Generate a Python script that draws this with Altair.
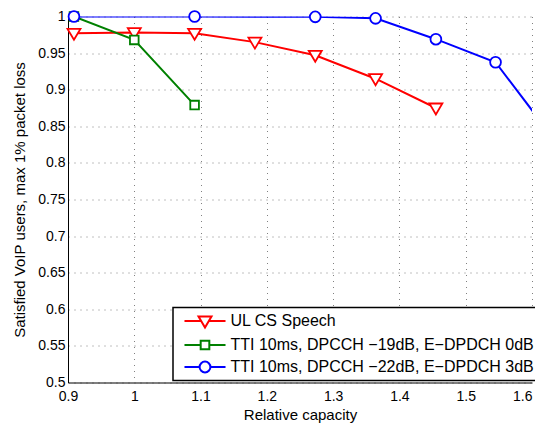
import altair as alt
import pandas as pd

FONT = "Liberation Sans"

series_names = [
    "UL CS Speech",
    "TTI 10ms, DPCCH \u221219dB, E\u2212DPDCH 0dB",
    "TTI 10ms, DPCCH \u221222dB, E\u2212DPDCH 3dB",
]
series_colors = ["#FF0000", "#008000", "#0000FF"]

x_red = [0.909, 1.0, 1.091, 1.182, 1.273, 1.364, 1.455]
y_red = [0.977, 0.978, 0.977, 0.965, 0.947, 0.915, 0.875]
x_green = [0.909, 1.0, 1.091]
y_green = [1.0, 0.968, 0.879]
x_blue = [0.909, 1.091, 1.273, 1.364, 1.455, 1.545, 1.636]
y_blue = [1.0, 1.0, 0.9995, 0.9975, 0.969, 0.9375, 0.829]

x_ticks = [0.9, 1.0, 1.1, 1.2, 1.3, 1.4, 1.5, 1.6]
y_ticks = [0.5, 0.55, 0.6, 0.65, 0.7, 0.75, 0.8, 0.85, 0.9, 0.95, 1.0]

# marker paths in the unit box (triangle-down, square, circle)
marker_shapes = [
    "M-0.72,-0.5L0.72,-0.5L0,0.72Z",
    "M-0.48,-0.48H0.48V0.48H-0.48Z",
    "M0.6,0A0.6,0.6,0,1,1,-0.6,0A0.6,0.6,0,1,1,0.6,0Z",
]
# legend glyphs: short line with the marker in the middle
legend_shapes = [
    "M-2.28,0H-0.42M0.42,0H2.28M-0.72,-0.5L0.72,-0.5L0,0.72Z",
    "M-2.28,0H-0.48M0.48,0H2.28M-0.48,-0.48H0.48V0.48H-0.48Z",
    "M-2.28,0H-0.6M0.6,0H2.28M0.6,0A0.6,0.6,0,1,1,-0.6,0A0.6,0.6,0,1,1,0.6,0Z",
]

rows = []
for name, xs, ys in zip(series_names, [x_red, x_green, x_blue], [y_red, y_green, y_blue]):
    for i, (xv, yv) in enumerate(zip(xs, ys)):
        rows.append({"series": name, "x": xv, "y": yv, "order": i})
df = pd.DataFrame(rows)

xscale = alt.Scale(domain=[0.9, 1.6], nice=False, zero=False)
yscale = alt.Scale(domain=[0.5, 1.0], nice=False, zero=False)

xenc = alt.X("x:Q", scale=xscale,
             axis=alt.Axis(values=x_ticks, format=".2~f", title="Relative capacity",
                           titlePadding=4, labelPadding=7, ticks=False, labelFlush=False,
                           labelAlign={"condition": {"test": "datum.value >= 1.59", "value": "right"},
                                       "value": "center"}))
yenc = alt.Y("y:Q", scale=yscale,
             axis=alt.Axis(values=y_ticks, format=".2~f",
                           title="Satisfied VoIP users, max 1% packet loss",
                           titlePadding=10, labelPadding=3, ticks=False, labelFlush=False))

layers = []
for name, col in zip(series_names, series_colors):
    layers.append(
        alt.Chart(df).transform_filter(alt.datum.series == name)
        .mark_line(strokeWidth=2, clip=True, stroke=col)
        .encode(x=xenc, y=yenc, order="order:Q")
    )
for name, col, shp in zip(series_names, series_colors, marker_shapes):
    layers.append(
        alt.Chart(df).transform_filter(
            (alt.datum.series == name) & (alt.datum.x <= 1.6)
        ).mark_point(filled=True, fill="white", stroke=col, shape=shp,
                     strokeWidth=1.8, size=324, opacity=1).encode(x=xenc, y=yenc)
    )

legend = alt.Legend(
    title=None, orient="none", legendX=105, legendY=291, padding=3.5,
    symbolSize=324, symbolOffset=18.5, labelOffset=15.5,
    symbolFillColor="white", symbolStrokeWidth=2, symbolOpacity=1,
    labelFontSize=16, labelFont=FONT, labelColor="black", labelLimit=600,
    rowPadding=3, strokeColor="black", fillColor="white", zindex=5,
)

# invisible marks (size 0) that only carry the legend
legend_layer = alt.Chart(df).mark_point(
    filled=True, fill="white", size=0
).encode(
    x=xenc, y=yenc,
    stroke=alt.Stroke("series:N", scale=alt.Scale(domain=series_names, range=series_colors),
                      legend=legend),
    shape=alt.Shape("series:N", scale=alt.Scale(domain=series_names, range=legend_shapes),
                    legend=legend),
)
layers.append(legend_layer)

chart = alt.layer(*layers).properties(
    width=464, height=366,
    autosize=alt.AutoSizeParams(type="none"),
    padding={"left": 60, "top": 8.5, "right": 3, "bottom": 40},
).configure_view(stroke=None).configure_axis(
    labelFont=FONT, titleFont=FONT, labelFontSize=14, titleFontSize=15,
    titleFontWeight="normal", labelColor="black", titleColor="black",
    domainColor="black", domainWidth=1,
    gridColor="#808080", gridDash=[1, 5], gridWidth=1, gridOpacity=1,
).configure_legend(strokeWidth=1.5)

chart.save("out.html", embed_options={"renderer": "svg", "actions": False})
